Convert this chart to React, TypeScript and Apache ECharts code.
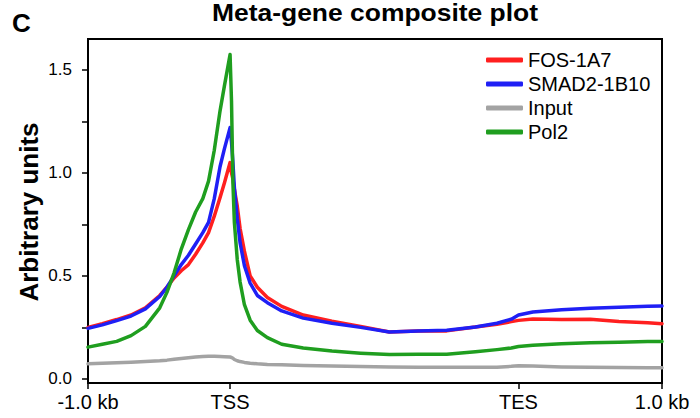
import React, { useEffect, useRef } from "react";
import * as echarts from "echarts";

// Scaled meta-gene bins: 0 = -1.0 kb, 99 = TSS, 300 = TES, 400 = +1.0 kb
const xPositions = [0, 10, 20, 30, 40, 50, 55, 60, 65, 70, 75, 80, 84, 88, 92, 95, 99, 100, 101, 102, 104, 106, 109, 113, 118, 125, 135, 150, 170, 190, 210, 230, 250, 270, 285, 295, 300, 310, 330, 350, 370, 390, 400];

const fosValues = [0.25, 0.268, 0.288, 0.31, 0.345, 0.405, 0.445, 0.49, 0.525, 0.555, 0.605, 0.66, 0.71, 0.79, 0.88, 0.95, 1.05, 1.0, 0.97, 0.92, 0.84, 0.73, 0.62, 0.5, 0.445, 0.395, 0.352, 0.31, 0.28, 0.255, 0.228, 0.232, 0.233, 0.252, 0.265, 0.278, 0.284, 0.291, 0.288, 0.289, 0.278, 0.272, 0.268];

const smadValues = [0.245, 0.262, 0.283, 0.305, 0.34, 0.4, 0.445, 0.5, 0.555, 0.6, 0.655, 0.71, 0.76, 0.875, 1.03, 1.115, 1.22, 1.15, 1.05, 0.93, 0.78, 0.66, 0.55, 0.465, 0.405, 0.37, 0.33, 0.295, 0.27, 0.25, 0.228, 0.233, 0.236, 0.252, 0.27, 0.29, 0.31, 0.325, 0.336, 0.343, 0.348, 0.352, 0.354];

const inputValues = [0.073, 0.076, 0.078, 0.081, 0.084, 0.088, 0.091, 0.095, 0.099, 0.103, 0.106, 0.109, 0.11, 0.11, 0.109, 0.108, 0.106, 0.104, 0.1, 0.094, 0.088, 0.084, 0.08, 0.076, 0.073, 0.07, 0.068, 0.065, 0.062, 0.06, 0.058, 0.057, 0.056, 0.056, 0.057, 0.061, 0.064, 0.063, 0.058, 0.056, 0.055, 0.054, 0.054];

const pol2Values = [0.154, 0.168, 0.182, 0.21, 0.255, 0.345, 0.42, 0.515, 0.63, 0.725, 0.81, 0.875, 0.96, 1.11, 1.3, 1.42, 1.575, 1.35, 0.95, 0.76, 0.58, 0.47, 0.36, 0.285, 0.235, 0.2, 0.168, 0.15, 0.135, 0.125, 0.118, 0.12, 0.12, 0.132, 0.142, 0.15, 0.157, 0.163, 0.17, 0.175, 0.178, 0.181, 0.182];

const seriesNames = ["FOS-1A7", "SMAD2-1B10", "Input", "Pol2"];
const seriesColors = ["#ff1f1f", "#1f1ff5", "#a3a3a3", "#1f9e1f"];
const seriesValues = [fosValues, smadValues, inputValues, pol2Values];

const xTickPositions = [0, 99, 300, 400];
const xTickLabels = ["-1.0 kb", "TSS", "TES", "1.0 kb"];
const yTickValues = [0, 0.25, 0.5, 0.75, 1.0, 1.25, 1.5];
const yLabelValues = [0, 0.5, 1.0, 1.5];

export default function App() {
  const ref = useRef<HTMLDivElement>(null);

  useEffect(() => {
    document.body.style.margin = "0";
    if (!ref.current) return;
    const chart = echarts.init(ref.current, null, { renderer: "svg" });
    const font = '"Liberation Sans", Arial, Helvetica, sans-serif';

    chart.setOption({
      animation: false,
      backgroundColor: "#ffffff",
      textStyle: { fontFamily: font },
      grid: {
        left: 88,
        right: 38,
        top: 39,
        bottom: 35,
        show: true,
        borderColor: "#000",
        borderWidth: 2,
        backgroundColor: "transparent",
        containLabel: false,
        outerBoundsMode: "none",
      },
      legend: {
        orient: "vertical",
        left: 486,
        top: 50,
        padding: 0,
        itemWidth: 37,
        itemHeight: 5,
        itemGap: 4,
        icon: "roundRect",
        data: seriesNames,
        textStyle: { fontFamily: font, fontSize: 20, color: "#000" },
      },
      xAxis: {
        type: "value",
        min: 0,
        max: 400,
        splitLine: { show: false },
        axisLine: { show: true, onZero: false, lineStyle: { color: "#000", width: 2 } },
        axisTick: {
          show: true,
          inside: false,
          length: 6,
          lineStyle: { color: "#000", width: 1.5 },
          customValues: xTickPositions,
        },
        axisLabel: {
          show: true,
          margin: 9,
          fontFamily: font,
          fontSize: 20,
          color: "#000",
          customValues: xTickPositions,
          formatter: (v: number) => {
            const i = xTickPositions.indexOf(v);
            return i >= 0 ? xTickLabels[i] : "";
          },
        },
      },
      yAxis: {
        type: "value",
        min: -0.02,
        max: 1.65,
        splitLine: { show: false },
        axisLine: { show: true, onZero: false, lineStyle: { color: "#000", width: 2 } },
        axisTick: {
          show: true,
          inside: false,
          length: 6,
          lineStyle: { color: "#000", width: 1.5 },
          customValues: yTickValues,
        },
        axisLabel: {
          show: true,
          margin: 16,
          fontFamily: font,
          fontSize: 17,
          color: "#000",
          customValues: yLabelValues,
          formatter: (v: number) => v.toFixed(1),
        },
      },
      graphic: [
        {
          type: "text",
          x: 375,
          y: 13,
          scaleX: 1.15,
          style: {
            text: "Meta-gene composite plot",
            font: `bold 23px ${font}`,
            fill: "#000",
            textAlign: "center",
            textVerticalAlign: "middle",
          },
        },
        {
          type: "text",
          x: 12,
          y: 23,
          style: {
            text: "C",
            font: `bold 26px ${font}`,
            fill: "#000",
            textAlign: "left",
            textVerticalAlign: "middle",
          },
        },
        {
          type: "text",
          x: 29,
          y: 212,
          rotation: Math.PI / 2,
          style: {
            text: "Arbitrary units",
            font: `bold 26px ${font}`,
            fill: "#000",
            textAlign: "center",
            textVerticalAlign: "middle",
          },
        },
      ],
      series: seriesNames.map((name, si) => ({
        name,
        type: "line",
        showSymbol: false,
        symbol: "none",
        smooth: false,
        color: seriesColors[si],
        lineStyle: { color: seriesColors[si], width: 3.5, cap: "round", join: "round" },
        data: xPositions.map((x, i) => [x, seriesValues[si][i]]),
      })),
    });

    return () => chart.dispose();
  }, []);

  return <div ref={ref} style={{ width: 700, height: 418 }} />;
}
